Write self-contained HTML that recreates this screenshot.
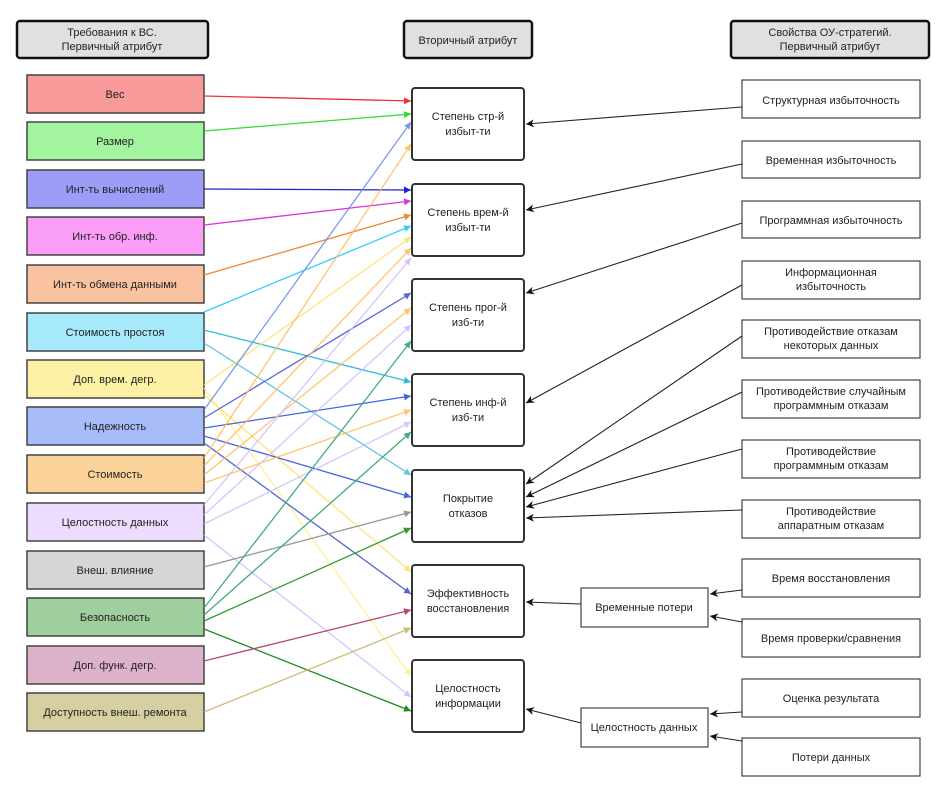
<!DOCTYPE html>
<html><head><meta charset="utf-8"><style>
html,body{margin:0;padding:0;background:#fff}
svg text{font-family:"Liberation Sans",sans-serif;font-size:11px;fill:#222;text-anchor:middle}
</style></head><body>
<svg width="942" height="789" viewBox="0 0 942 789" xmlns="http://www.w3.org/2000/svg">
<defs>
<marker id="a" viewBox="0 0 10 10" refX="10" refY="5" markerWidth="7" markerHeight="7" orient="auto-start-reverse" markerUnits="userSpaceOnUse"><path d="M0,0L10,5L0,10z" fill="context-stroke"/></marker>
<marker id="k" viewBox="0 0 10 10" refX="10" refY="5" markerWidth="9" markerHeight="8" orient="auto" markerUnits="userSpaceOnUse"><path d="M0,0L10,5L0,10L3,5z" fill="#111"/></marker>
</defs>
<!-- headers -->
<g stroke="#111" stroke-width="2.5" fill="#e0e0e0">
<rect x="17" y="21" width="191" height="37" rx="3"/>
<rect x="404" y="21" width="128" height="37" rx="3"/>
<rect x="731" y="21" width="198" height="37" rx="3"/>
</g>
<text x="112" y="36">Требования к ВС.</text><text x="112" y="50">Первичный атрибут</text>
<text x="468" y="44">Вторичный атрибут</text>
<text x="830" y="36">Свойства ОУ-стратегий.</text><text x="830" y="50">Первичный атрибут</text>

<!-- left boxes -->
<g stroke="#444" stroke-width="1.5">
<rect x="27" y="75" width="177" height="38" fill="#f99a9a"/>
<rect x="27" y="122" width="177" height="38" fill="#a2f59e"/>
<rect x="27" y="170" width="177" height="38" fill="#9d9cf7"/>
<rect x="27" y="217" width="177" height="38" fill="#fa9ef7"/>
<rect x="27" y="265" width="177" height="38" fill="#f9c2a0"/>
<rect x="27" y="313" width="177" height="38" fill="#a6e9fb"/>
<rect x="27" y="360" width="177" height="38" fill="#fdf1a6"/>
<rect x="27" y="407" width="177" height="38" fill="#a8bcf9"/>
<rect x="27" y="455" width="177" height="38" fill="#fbd39a"/>
<rect x="27" y="503" width="177" height="38" fill="#ecdcfd"/>
<rect x="27" y="551" width="177" height="38" fill="#d6d6d6"/>
<rect x="27" y="598" width="177" height="38" fill="#9fcf9d"/>
<rect x="27" y="646" width="177" height="38" fill="#ddb2cb"/>
<rect x="27" y="693" width="177" height="38" fill="#d6cfa2"/>
</g>
<text x="115" y="98">Вес</text><text x="115" y="145">Размер</text>
<text x="115" y="193">Инт-ть вычислений</text><text x="115" y="240">Инт-ть обр. инф.</text>
<text x="115" y="288">Инт-ть обмена данными</text><text x="115" y="336">Стоимость простоя</text>
<text x="115" y="383">Доп. врем. дегр.</text><text x="115" y="430">Надежность</text>
<text x="115" y="478">Стоимость</text><text x="115" y="526">Целостность данных</text>
<text x="115" y="574">Внеш. влияние</text><text x="115" y="621">Безопасность</text>
<text x="115" y="669">Доп. функ. дегр.</text><text x="115" y="716">Доступность внеш. ремонта</text>

<!-- colored connectors -->
<g fill="none" stroke-width="1.3" marker-end="url(#a)">
<line x1="204" y1="96" x2="411" y2="101" stroke="#e33"/>
<line x1="204" y1="131" x2="411" y2="114" stroke="#3d3"/>
<line x1="204" y1="189" x2="411" y2="190" stroke="#22c"/>
<line x1="204" y1="225" x2="411" y2="201" stroke="#d3d"/>
<line x1="204" y1="275" x2="411" y2="215" stroke="#e83"/>
<line x1="204" y1="312" x2="411" y2="226" stroke="#3cf"/>
<line x1="204" y1="330" x2="411" y2="382" stroke="#3bd"/>
<line x1="204" y1="343" x2="411" y2="475" stroke="#4bd" opacity=".85"/>
<line x1="204" y1="385" x2="411" y2="237" stroke="#fd5" opacity=".8"/>
<line x1="204" y1="395" x2="411" y2="572" stroke="#fd5" opacity=".8"/>
<line x1="204" y1="388" x2="411" y2="676" stroke="#fe7" opacity=".8"/>
<line x1="204" y1="410" x2="411" y2="122" stroke="#68e" opacity=".85"/>
<line x1="204" y1="418" x2="411" y2="293" stroke="#56d"/>
<line x1="204" y1="428" x2="411" y2="396" stroke="#46d"/>
<line x1="204" y1="436" x2="411" y2="497" stroke="#46d"/>
<line x1="204" y1="443" x2="411" y2="594" stroke="#56c"/>
<line x1="204" y1="458" x2="411" y2="144" stroke="#fb5" opacity=".85"/>
<line x1="204" y1="466" x2="411" y2="248" stroke="#fb5" opacity=".85"/>
<line x1="204" y1="475" x2="411" y2="308" stroke="#fb5" opacity=".85"/>
<line x1="204" y1="483" x2="411" y2="410" stroke="#fb5" opacity=".85"/>
<line x1="204" y1="505" x2="411" y2="258" stroke="#cbf" opacity=".85"/>
<line x1="204" y1="515" x2="411" y2="325" stroke="#cbf" opacity=".85"/>
<line x1="204" y1="524" x2="411" y2="422" stroke="#cbf" opacity=".85"/>
<line x1="204" y1="535" x2="411" y2="697" stroke="#cbf" opacity=".85"/>
<line x1="204" y1="567" x2="411" y2="512" stroke="#999"/>
<line x1="204" y1="608" x2="411" y2="341" stroke="#4a8"/>
<line x1="204" y1="615" x2="411" y2="432" stroke="#4a7"/>
<line x1="204" y1="621" x2="411" y2="528" stroke="#393"/>
<line x1="204" y1="629" x2="411" y2="711" stroke="#282"/>
<line x1="204" y1="661" x2="411" y2="610" stroke="#b47"/>
<line x1="204" y1="712" x2="411" y2="628" stroke="#cb7"/>
</g>

<!-- middle boxes -->
<g stroke="#333" stroke-width="2" fill="#fff">
<rect x="412" y="88" width="112" height="72" rx="3"/>
<rect x="412" y="184" width="112" height="72" rx="3"/>
<rect x="412" y="279" width="112" height="72" rx="3"/>
<rect x="412" y="374" width="112" height="72" rx="3"/>
<rect x="412" y="470" width="112" height="72" rx="3"/>
<rect x="412" y="565" width="112" height="72" rx="3"/>
<rect x="412" y="660" width="112" height="72" rx="3"/>
</g>
<text x="468" y="120">Степень стр-й</text><text x="468" y="135">избыт-ти</text>
<text x="468" y="216">Степень врем-й</text><text x="468" y="231">избыт-ти</text>
<text x="468" y="311">Степень прог-й</text><text x="468" y="326">изб-ти</text>
<text x="468" y="406">Степень инф-й</text><text x="468" y="421">изб-ти</text>
<text x="468" y="502">Покрытие</text><text x="468" y="517">отказов</text>
<text x="468" y="597">Эффективность</text><text x="468" y="612">восстановления</text>
<text x="468" y="692">Целостность</text><text x="468" y="707">информации</text>

<!-- right boxes -->
<g stroke="#444" stroke-width="1.2" fill="#fff">
<rect x="742" y="80" width="178" height="38"/>
<rect x="742" y="141" width="178" height="37"/>
<rect x="742" y="201" width="178" height="37"/>
<rect x="742" y="261" width="178" height="38"/>
<rect x="742" y="320" width="178" height="38"/>
<rect x="742" y="380" width="178" height="38"/>
<rect x="742" y="440" width="178" height="38"/>
<rect x="742" y="500" width="178" height="38"/>
<rect x="742" y="559" width="178" height="38"/>
<rect x="742" y="619" width="178" height="38"/>
<rect x="742" y="679" width="178" height="38"/>
<rect x="742" y="738" width="178" height="38"/>
<rect x="581" y="588" width="127" height="39"/>
<rect x="581" y="708" width="127" height="39"/>
</g>
<text x="831" y="104">Структурная избыточность</text>
<text x="831" y="164">Временная избыточность</text>
<text x="831" y="224">Программная избыточность</text>
<text x="831" y="276">Информационная</text><text x="831" y="290">избыточность</text>
<text x="831" y="335">Противодействие отказам</text><text x="831" y="349">некоторых данных</text>
<text x="831" y="395">Противодействие случайным</text><text x="831" y="409">программным отказам</text>
<text x="831" y="455">Противодействие</text><text x="831" y="469">программным отказам</text>
<text x="831" y="515">Противодействие</text><text x="831" y="529">аппаратным отказам</text>
<text x="831" y="582">Время восстановления</text>
<text x="831" y="642">Время проверки/сравнения</text>
<text x="831" y="702">Оценка результата</text>
<text x="831" y="761">Потери данных</text>
<text x="644" y="611">Временные потери</text>
<text x="644" y="731">Целостность данных</text>

<!-- black connectors -->
<g stroke="#222" stroke-width="1.1" fill="none" marker-end="url(#k)">
<line x1="742" y1="107" x2="526" y2="124"/>
<line x1="742" y1="164" x2="526" y2="210"/>
<line x1="742" y1="223" x2="526" y2="293"/>
<line x1="742" y1="285" x2="526" y2="403"/>
<line x1="742" y1="336" x2="526" y2="484"/>
<line x1="742" y1="392" x2="526" y2="497"/>
<line x1="742" y1="449" x2="526" y2="507"/>
<line x1="742" y1="510" x2="526" y2="518"/>
<line x1="742" y1="590" x2="710" y2="594"/>
<line x1="742" y1="622" x2="710" y2="616"/>
<line x1="581" y1="604" x2="526" y2="602"/>
<line x1="742" y1="712" x2="710" y2="714"/>
<line x1="742" y1="741" x2="710" y2="736"/>
<line x1="581" y1="723" x2="526" y2="709"/>
</g>
</svg>
</body></html>
